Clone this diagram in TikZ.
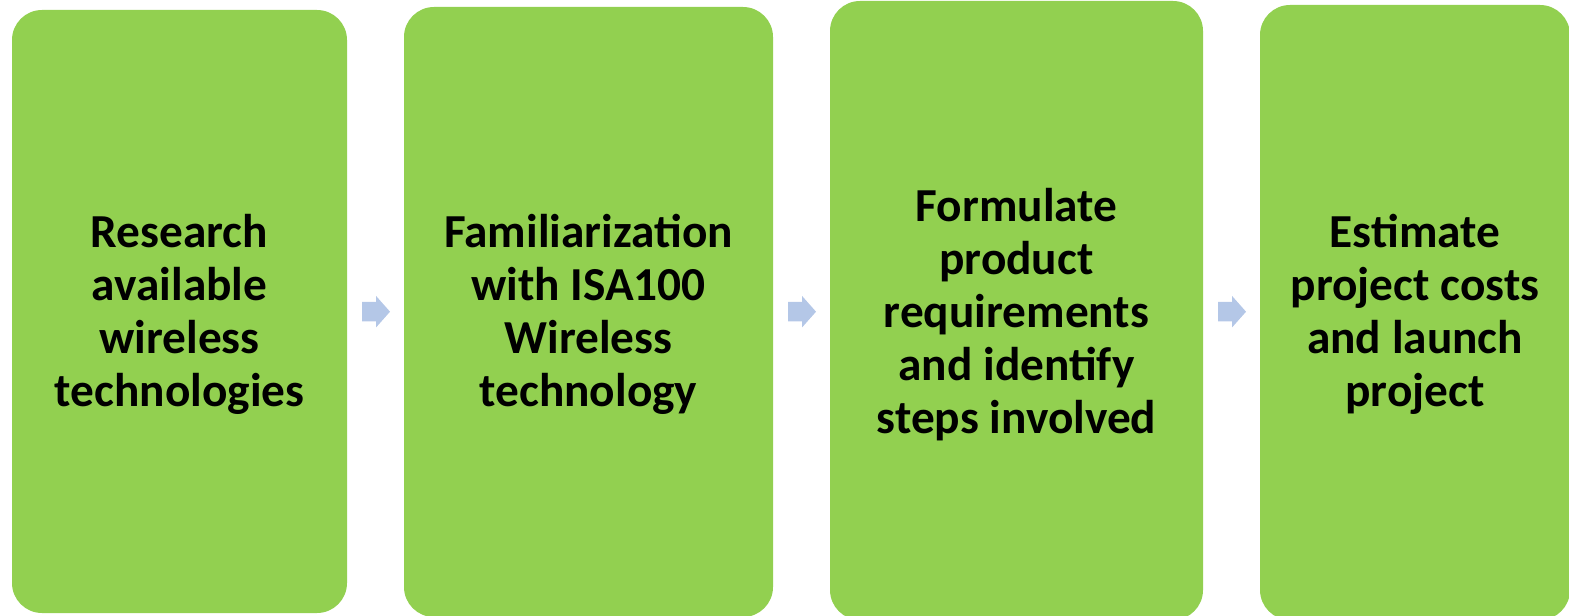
\documentclass[tikz,border=0pt]{standalone}
\usepackage{fontspec}
\setmainfont{Carlito}
\definecolor{boxgreen}{RGB}{146,208,80}
\definecolor{arrowblue}{RGB}{180,199,231}
\tikzset{
  stepbox/.style={fill=boxgreen, draw=none, rounded corners=22.5pt, inner sep=0pt},
  steptext/.style={align=center, font=\bfseries\fontsize{35.5}{39.8}\selectfont, text=black, inner sep=0pt},
  blockarrow/.style={fill=arrowblue, draw=none}
}
\begin{document}
\begin{tikzpicture}[x=0.75pt,y=-0.75pt]
\useasboundingbox (0,0) rectangle (1569,616);
\node[stepbox, minimum width=335*0.75pt, minimum height=603*0.75pt] (b1) at (179.5,311.5) {};
\node[stepbox, minimum width=369*0.75pt, minimum height=610*0.75pt] (b2) at (588.5,312) {};
\node[stepbox, minimum width=373*0.75pt, minimum height=619*0.75pt] (b3) at (1016.5,310.5) {};
\node[stepbox, minimum width=310*0.75pt, minimum height=615*0.75pt] (b4) at (1415,312.5) {};
\node[steptext] (t1) at ([yshift=-2.25pt]b1.center) {Research\\available\\wireless\\technologies};
\node[steptext] (t2) at ([yshift=-1.5pt]b2.center) {Familiarization\\with ISA100\\Wireless\\technology};
\node[steptext] (t3) at ([yshift=-3pt]b3.center) {Formulate\\product\\requirements\\and identify\\steps involved};
\node[steptext] (t4) at ([yshift=-1.5pt]b4.center) {Estimate\\project costs\\and launch\\project};
\coordinate (a1) at (362,311.7);
\coordinate (a2) at (788,311.7);
\coordinate (a3) at (1218,311.7);
\foreach \a in {a1,a2,a3}{
  \fill[blockarrow] (\a) ++(0,-9.7) -- ++(14,0) -- ++(0,-6.1) -- ++(14,15.8) -- ++(-14,15.8) -- ++(0,-6.1) -- ++(-14,0) -- cycle;
}
\end{tikzpicture}
\end{document}
